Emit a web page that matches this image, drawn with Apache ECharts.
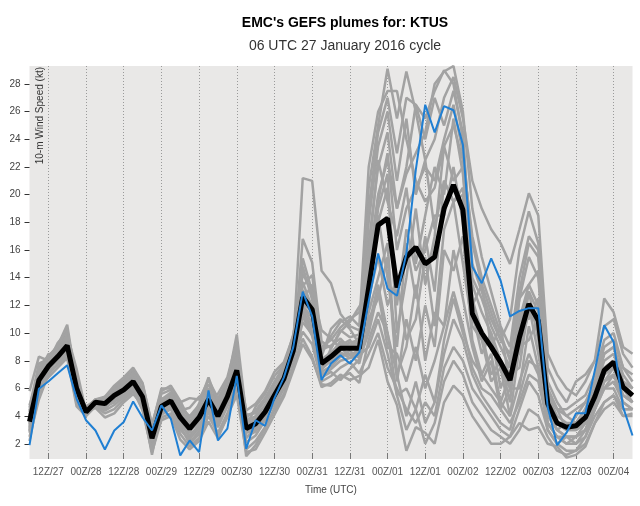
<!DOCTYPE html>
<html><head><meta charset="utf-8">
<script src="https://cdn.jsdelivr.net/npm/echarts@6/dist/echarts.min.js"></script>
<style>html,body{margin:0;padding:0;background:#fff}#c{width:640px;height:506px}</style>
</head><body><div id="c"></div>
<script>
// 3-hourly forecast steps, 06Z/27 .. 06Z/04 (65 steps, index 0..64)
const xTickLabels = ['12Z/27','00Z/28','12Z/28','00Z/29','12Z/29','00Z/30','12Z/30','00Z/31','12Z/31','00Z/01','12Z/01','00Z/02','12Z/02','00Z/03','12Z/03','00Z/04'];
const xTickSteps = [2,6,10,14,18,22,26,30,34,38,42,46,50,54,58,62];
const yTicks = [2,4,6,8,10,12,14,16,18,20,22,24,26,28];

const ensMean = [3.6,6.6,7.6,8.3,9.1,6.0,4.3,5.0,4.9,5.5,5.9,6.5,5.4,
  2.4,4.7,5.1,3.9,3.1,3.9,5.2,4.0,5.4,7.3,3.1,3.45,4.3,5.5,6.7,8.75,
  12.6,11.7,7.8,8.3,8.9,8.9,8.9,
  13.3,17.8,18.3,13.3,15.5,16.2,15.0,15.5,19.0,20.7,18.9,
  11.4,10.0,9.0,7.9,6.6,9.7,12.1,10.9,
  4.9,3.5,3.2,3.3,3.9,5.4,7.3,7.9,6.1,5.5];

const blueRun = [1.9,5.98,6.5,7.1,7.67,5.25,3.7,2.96,1.59,2.96,3.57,5.06,3.9,2.96,4.77,3.8,1.16,2.24,1.4,5.86,2.24,
  3.1,6.9,1.64,3.7,3.3,5.3,6.8,9.0,
  13.0,11.2,6.6,7.8,8.4,7.8,8.6,
  12.3,15.75,13.2,12.7,15.75,21.8,26.5,24.5,26.4,26.1,23.6,
  14.8,13.6,15.4,13.8,11.2,11.6,11.8,11.8,
  4.65,1.9,2.8,4.2,4.2,7.3,10.56,9.35,4.65,2.6];

const member01 = [4.0,7.2,8.2,8.8,9.6,5.9,4.5,5.1,5.0,5.8,6.2,6.9,5.6, 2.6,4.9,5.3,4.1,3.3,4.2,5.6,4.3,5.8,7.8,3.4,3.6,4.5,5.8,7.0,9.1, 13.1,12.0,8.1,8.6,9.2,9.1,9.3, 20.5,25.0,29.1,25.5,28.9,26.0,22.5,24.0,27.0,28.5,25.5, 21.0,19.0,17.5,16.5,15.0,17.5,20.1,18.5, 8.5,7.0,6.0,5.5,6.5,8.0,10.5,11.0,8.5,7.5];
const member02 = [3.2,6.1,7.3,8.6,10.3,6.2,4.1,4.9,4.6,5.3,6.0,7.3,5.9, 2.1,4.5,4.8,3.5,2.6,3.3,4.9,3.6,5.0,8.6,2.8,3.0,4.0,5.2,6.6,8.5, 16.8,15.1,9.4,8.9,10.2,9.7,9.9, 15.0,20.0,22.5,19.0,21.5,23.0,24.5,28.0,28.9,29.3,26.0, 19.0,15.5,13.0,10.5,9.0,14.0,17.0,16.0, 6.5,5.0,4.0,3.5,4.5,6.5,9.0,9.5,7.5,6.5];
const member03 = [5.8,8.3,8.0,8.4,8.9,5.2,4.6,5.2,5.3,6.0,6.5,7.0,5.2, 3.2,5.6,5.9,4.6,4.0,4.8,6.3,5.1,6.4,9.9,4.1,4.2,5.1,6.3,7.4,9.3, 21.2,21.0,14.5,13.6,11.4,10.5,10.2, 12.0,18.5,14.0,9.0,16.5,12.5,17.0,13.0,21.0,19.5,20.5, 12.0,13.5,9.0,10.5,6.0,12.5,13.5,14.5, 5.5,4.0,3.5,3.5,4.0,5.5,7.5,8.0,6.0,5.5];
const member04 = [2.5,5.2,7.0,7.8,8.5,5.0,4.2,4.8,4.4,4.8,5.4,6.1,5.0, 1.8,4.2,4.6,3.2,2.1,2.9,4.5,3.2,4.7,6.4,2.1,2.6,3.7,4.9,6.2,8.0, 10.8,9.9,7.0,7.4,8.0,8.2,8.4, 9.0,11.0,8.5,5.5,3.0,4.5,2.0,3.5,6.5,8.0,7.0, 5.0,4.0,3.0,2.5,2.0,3.0,4.5,4.0, 2.5,1.5,1.2,1.5,2.5,4.0,5.0,5.5,4.5,4.5];
const member05 = [3.8,6.8,7.9,9.3,10.1,6.8,4.4,5.0,5.4,5.9,6.3,6.4,6.0, 2.9,5.1,5.6,4.8,3.9,4.6,5.4,4.6,6.1,7.2,3.6,4.0,4.8,6.0,7.1,9.4, 12.4,13.5,8.6,9.8,10.8,11.2,10.5, 22.0,26.0,27.5,27.5,24.0,21.0,19.5,20.5,23.5,25.0,22.5, 17.0,14.0,12.0,10.0,8.0,13.0,16.5,15.5, 6.0,4.5,3.0,4.0,5.0,6.0,8.5,9.0,7.0,6.0];
const member06 = [3.0,5.9,6.8,7.5,8.2,4.7,4.0,4.7,4.2,4.5,5.2,5.8,4.5, 1.5,3.9,4.2,2.7,1.8,2.4,4.0,2.8,4.2,5.9,1.6,2.2,3.2,4.4,5.6,7.6, 9.6,8.3,6.1,6.4,7.0,6.6,6.9, 7.5,9.5,6.5,4.8,1.5,3.2,2.8,2.0,5.0,6.2,5.5, 4.0,3.0,2.0,2.0,2.5,3.5,3.0,3.2, 2.0,1.8,1.0,1.2,1.8,3.5,4.5,5.0,4.0,4.2];
const member07 = [4.3,7.5,8.4,8.9,9.4,5.4,4.5,5.2,5.1,5.6,6.1,6.6,5.7, 2.4,4.8,5.2,4.0,3.5,4.9,6.8,4.9,6.0,8.9,3.3,3.4,4.4,5.5,6.8,8.8, 13.7,11.8,7.6,8.1,9.1,9.5,8.6, 14.5,19.5,23.0,16.0,19.0,20.5,22.0,21.0,24.0,26.5,23.0, 16.5,13.5,11.5,9.5,11.0,16.0,18.8,16.5, 7.5,6.0,5.0,6.5,7.0,8.0,12.5,11.5,9.0,8.5];
const member08 = [2.8,6.4,7.7,8.1,8.9,6.0,4.3,4.6,3.9,4.2,5.0,5.6,4.8, 1.2,4.4,5.0,3.6,2.4,3.1,4.3,2.6,3.9,6.7,1.1,1.9,3.1,4.6,6.0,8.2, 11.2,9.8,6.8,7.2,6.6,7.4,8.1, 10.0,13.0,9.0,8.5,6.5,9.0,6.0,8.0,10.5,13.0,10.5, 7.5,6.0,5.5,4.5,3.5,5.0,7.0,6.5, 3.5,2.5,2.0,2.0,2.5,4.5,6.0,6.5,5.0,4.5];
const member09 = [4.6,7.8,8.1,8.6,9.2,5.5,4.7,5.1,4.8,5.5,5.7,6.3,5.3, 2.7,5.3,5.0,4.4,4.6,5.4,5.8,4.4,5.6,7.5,3.8,3.9,4.6,5.7,7.2,9.0, 14.3,12.9,8.8,9.1,9.6,8.9,9.7, 16.5,22.0,24.5,19.0,22.0,26.5,24.0,27.0,25.0,27.5,24.5, 14.0,12.5,10.5,9.0,7.5,10.5,13.0,11.5, 5.0,3.5,3.0,3.0,3.5,5.0,7.0,7.5,6.5,6.0];
const member10 = [3.4,6.3,7.5,8.5,9.9,7.4,4.3,4.9,5.2,6.1,6.6,7.4,6.3, 3.4,5.8,6.2,5.1,3.7,4.1,5.3,5.6,6.8,9.4,3.2,4.7,5.6,6.9,7.7,9.6, 12.0,11.1,7.3,8.9,10.1,10.8,11.9, 13.0,19.0,21.5,10.0,14.0,19.0,13.5,17.0,23.5,21.0,22.0, 12.5,10.0,9.0,7.5,6.0,9.0,11.5,10.5, 4.5,3.0,3.5,3.0,3.5,5.5,7.5,8.0,6.0,5.0];
const member11 = [3.9,6.9,7.6,7.9,8.7,5.3,4.1,4.8,4.7,5.0,5.8,6.2,5.1, 2.0,4.6,4.9,3.8,2.9,3.6,5.0,3.9,5.1,6.9,2.9,3.1,4.0,5.3,6.4,8.4, 11.6,10.4,7.7,7.9,8.4,8.7,8.2, 11.5,14.0,16.5,7.0,9.0,13.5,8.0,11.5,10.5,16.0,12.5, 9.0,6.5,8.0,4.5,6.0,6.0,10.5,7.5, 3.5,2.5,2.5,2.5,3.0,4.5,6.5,7.0,5.5,5.0];
const member12 = [2.2,5.6,7.1,8.2,9.0,5.8,4.2,5.0,5.3,5.7,5.9,6.8,5.5, 2.5,4.7,5.2,3.3,2.0,2.7,4.6,4.2,5.5,7.0,2.4,3.2,4.3,5.6,6.9,8.9, 15.4,13.0,10.2,9.6,8.9,8.4,8.8, 18.0,23.5,26.0,21.0,25.5,20.0,22.5,17.5,21.0,19.5,20.0, 11.5,8.5,10.0,6.0,8.0,8.5,13.0,9.5, 4.5,3.5,3.0,3.5,4.5,6.0,8.0,8.5,6.5,5.5];
const member13 = [4.8,7.0,8.0,8.7,9.5,5.6,4.4,5.1,5.0,5.4,6.0,6.5,5.6, 2.8,5.0,5.4,4.3,3.1,3.8,5.5,4.7,5.9,8.1,3.7,3.8,4.7,5.7,6.7,8.6, 12.2,11.5,7.9,8.4,9.0,9.3,9.5, 12.5,15.5,12.0,14.0,9.5,11.0,15.5,10.5,17.5,19.5,15.0, 10.5,9.5,6.5,7.5,4.0,9.0,9.5,11.0, 4.0,3.0,2.5,2.5,3.0,5.0,6.5,7.5,5.5,5.0];
const member14 = [3.5,6.5,7.8,8.0,8.6,5.1,4.6,4.9,4.5,5.2,5.5,6.0,4.9, 1.6,4.1,4.5,3.0,2.3,3.5,4.8,3.4,4.9,6.2,2.5,2.9,3.8,5.0,6.3,8.1, 10.1,9.2,6.5,6.9,7.5,7.9,7.1, 8.5,10.0,7.5,6.0,4.5,3.5,5.0,4.0,7.5,9.0,8.0, 6.0,5.0,4.0,3.0,2.5,4.5,6.5,5.5, 3.0,2.0,1.5,1.5,2.0,3.5,5.0,5.5,4.0,4.0];
const member15 = [3.1,6.0,7.4,9.0,9.8,6.5,4.2,4.8,4.9,5.6,6.4,7.1,5.8, 3.0,5.2,5.7,4.5,3.6,4.4,6.0,4.8,6.6,9.1,3.9,4.4,5.3,6.5,7.6,9.9, 13.4,14.2,9.0,9.5,10.4,11.0,11.5, 15.5,22.5,19.5,17.0,20.5,15.0,18.5,22.0,20.0,25.5,21.5, 13.5,11.5,10.0,8.0,7.0,11.0,13.5,12.0, 6.0,4.5,4.0,4.5,5.0,6.5,8.5,9.0,6.5,6.0];
const member16 = [4.1,7.3,7.8,8.3,8.8,5.7,4.3,5.0,5.2,5.6,5.8,6.2,5.4, 2.3,4.6,5.1,3.9,3.0,3.7,5.1,3.8,5.2,7.1,3.0,3.3,4.1,5.4,6.5,8.7, 11.9,10.7,7.4,8.0,8.6,8.2,8.7, 11.0,12.5,15.5,6.5,11.0,8.0,12.0,9.0,16.0,14.5,17.0, 9.5,7.0,8.5,5.0,7.0,7.5,12.0,8.5, 4.5,3.0,2.5,2.0,3.0,4.5,6.5,7.0,5.5,5.0];
const member17 = [2.9,6.6,7.2,7.7,8.3,4.9,4.1,4.7,4.6,5.1,5.3,6.0,4.4, 1.4,3.7,4.0,2.3,1.6,2.2,3.6,2.4,4.0,5.5,1.4,1.6,2.8,4.1,5.4,7.3, 9.2,8.1,6.3,6.2,6.8,7.1,6.4, 9.5,11.5,10.0,7.0,4.0,6.5,3.5,5.0,8.5,11.0,9.5, 7.0,5.5,4.5,3.5,3.0,5.5,8.0,7.5, 3.0,2.0,2.5,2.5,3.5,5.0,6.0,6.0,4.5,4.5];
const member18 = [4.4,7.1,8.3,9.1,10.6,6.3,4.5,5.2,5.4,6.2,6.8,7.5,6.4, 3.3,6.0,6.0,5.0,5.3,5.2,6.6,5.3,6.5,8.3,4.4,4.9,5.8,7.2,7.9,9.8, 14.8,12.4,8.3,10.3,11.0,10.3,9.2, 19.0,24.5,27.0,23.0,27.0,26.5,25.5,27.5,29.0,28.0,24.0, 15.0,13.0,11.0,9.5,8.5,12.5,15.5,14.0, 5.5,4.5,4.5,5.0,5.5,7.0,9.5,10.0,7.5,7.0];
const member19 = [3.3,6.2,7.6,8.4,9.3,5.5,4.2,5.0,4.9,5.3,5.6,6.4,5.2, 2.2,4.3,4.7,3.4,2.8,3.9,5.2,3.7,5.3,7.4,3.1,3.5,4.2,5.3,6.5,8.3, 11.4,10.1,7.2,7.6,8.3,8.5,7.8, 10.5,13.5,10.0,5.5,6.0,4.5,7.0,5.0,9.5,12.5,10.0, 8.0,7.0,6.0,5.0,4.0,6.5,8.5,7.0, 3.5,2.5,2.0,2.5,3.0,4.5,6.0,7.0,5.0,4.5];
const member20 = [3.6,6.7,8.5,8.2,8.9,5.3,4.4,5.0,4.7,5.5,6.2,6.7,5.7, 2.6,4.8,5.5,4.2,3.4,4.0,5.3,4.3,5.4,7.6,3.5,3.7,4.6,5.8,6.9,8.8, 12.8,11.3,8.0,8.5,9.4,9.0,9.1, 13.5,18.0,20.5,12.0,17.5,14.5,16.0,18.5,18.5,22.0,18.0, 11.0,10.0,7.0,8.0,5.0,11.5,11.0,12.5, 5.0,3.5,3.0,3.0,4.0,5.5,7.0,8.0,6.0,5.5];

const members = [member01,member02,member03,member04,member05,member06,member07,member08,member09,member10,
                 member11,member12,member13,member14,member15,member16,member17,member18,member19,member20];

const toPairs = arr => arr.map((v, i) => [i, v]);
const labelOf = {};
xTickSteps.forEach((s, k) => { labelOf[s] = xTickLabels[k]; });

const series = [];
members.forEach((m, k) => {
  series.push({ name: 'm' + (k + 1), type: 'line', data: toPairs(m), showSymbol: false, symbol: 'none',
    lineStyle: { color: '#a2a2a2', width: 2.5 }, silent: true, z: 2 });
});
series.push({ name: 'mean', type: 'line', data: toPairs(ensMean), symbol: 'none',
  lineStyle: { color: '#000', width: 5 }, z: 3 });
series.push({ name: 'ctl', type: 'line', data: toPairs(blueRun), symbol: 'none',
  lineStyle: { color: '#1f7fd3', width: 2 }, z: 4 });

const chart = echarts.init(document.getElementById('c'), null, { renderer: 'canvas' });
chart.setOption({
  animation: false,
  backgroundColor: '#ffffff',
  title: [
    { text: "EMC's GEFS plumes for: KTUS", left: 340, top: 11, textAlign: 'center',
      textStyle: { fontFamily: 'Liberation Sans, Arial, sans-serif', fontSize: 14, fontWeight: 'bold', color: '#000' } },
    { text: '06 UTC 27 January 2016 cycle', left: 340, top: 34, textAlign: 'center',
      textStyle: { fontFamily: 'Liberation Sans, Arial, sans-serif', fontSize: 14, fontWeight: 'normal', color: '#333' } }
  ],
  grid: { left: 29.5, right: 7.5, top: 66, bottom: 47, show: true, backgroundColor: '#e9e8e7', borderWidth: 0 },
  xAxis: {
    type: 'value', min: 0, max: 64,
    axisLine: { show: false },
    axisTick: { show: true, inside: true, length: 6, customValues: xTickSteps, lineStyle: { color: '#777' } },
    axisLabel: { customValues: xTickSteps, formatter: v => labelOf[v] || '', fontSize: 10, color: '#555',
      margin: 8, fontFamily: 'Liberation Sans, Arial, sans-serif' },
    splitLine: { show: true, lineStyle: { type: [1, 2], color: '#9a9a9a', width: 1 } },
    name: 'Time (UTC)', nameLocation: 'middle', nameGap: 26,
    nameTextStyle: { fontSize: 10, color: '#444', fontFamily: 'Liberation Sans, Arial, sans-serif' }
  },
  yAxis: {
    type: 'value', min: 0.9, max: 29.3,
    axisLine: { show: false },
    axisTick: { show: true, length: 5, customValues: yTicks, lineStyle: { color: '#333' } },
    axisLabel: { customValues: yTicks, fontSize: 10, color: '#444', margin: 9,
      fontFamily: 'Liberation Sans, Arial, sans-serif' },
    splitLine: { show: false }
  },
  graphic: [{
    type: 'text', x: 40, y: 67, rotation: Math.PI / 2, z: 10,
    style: { text: '10-m Wind Speed (kt)', fontSize: 10, fill: '#333', align: 'right', verticalAlign: 'middle',
      fontFamily: 'Liberation Sans, Arial, sans-serif' }
  }],
  series: series
});
</script></body></html>
